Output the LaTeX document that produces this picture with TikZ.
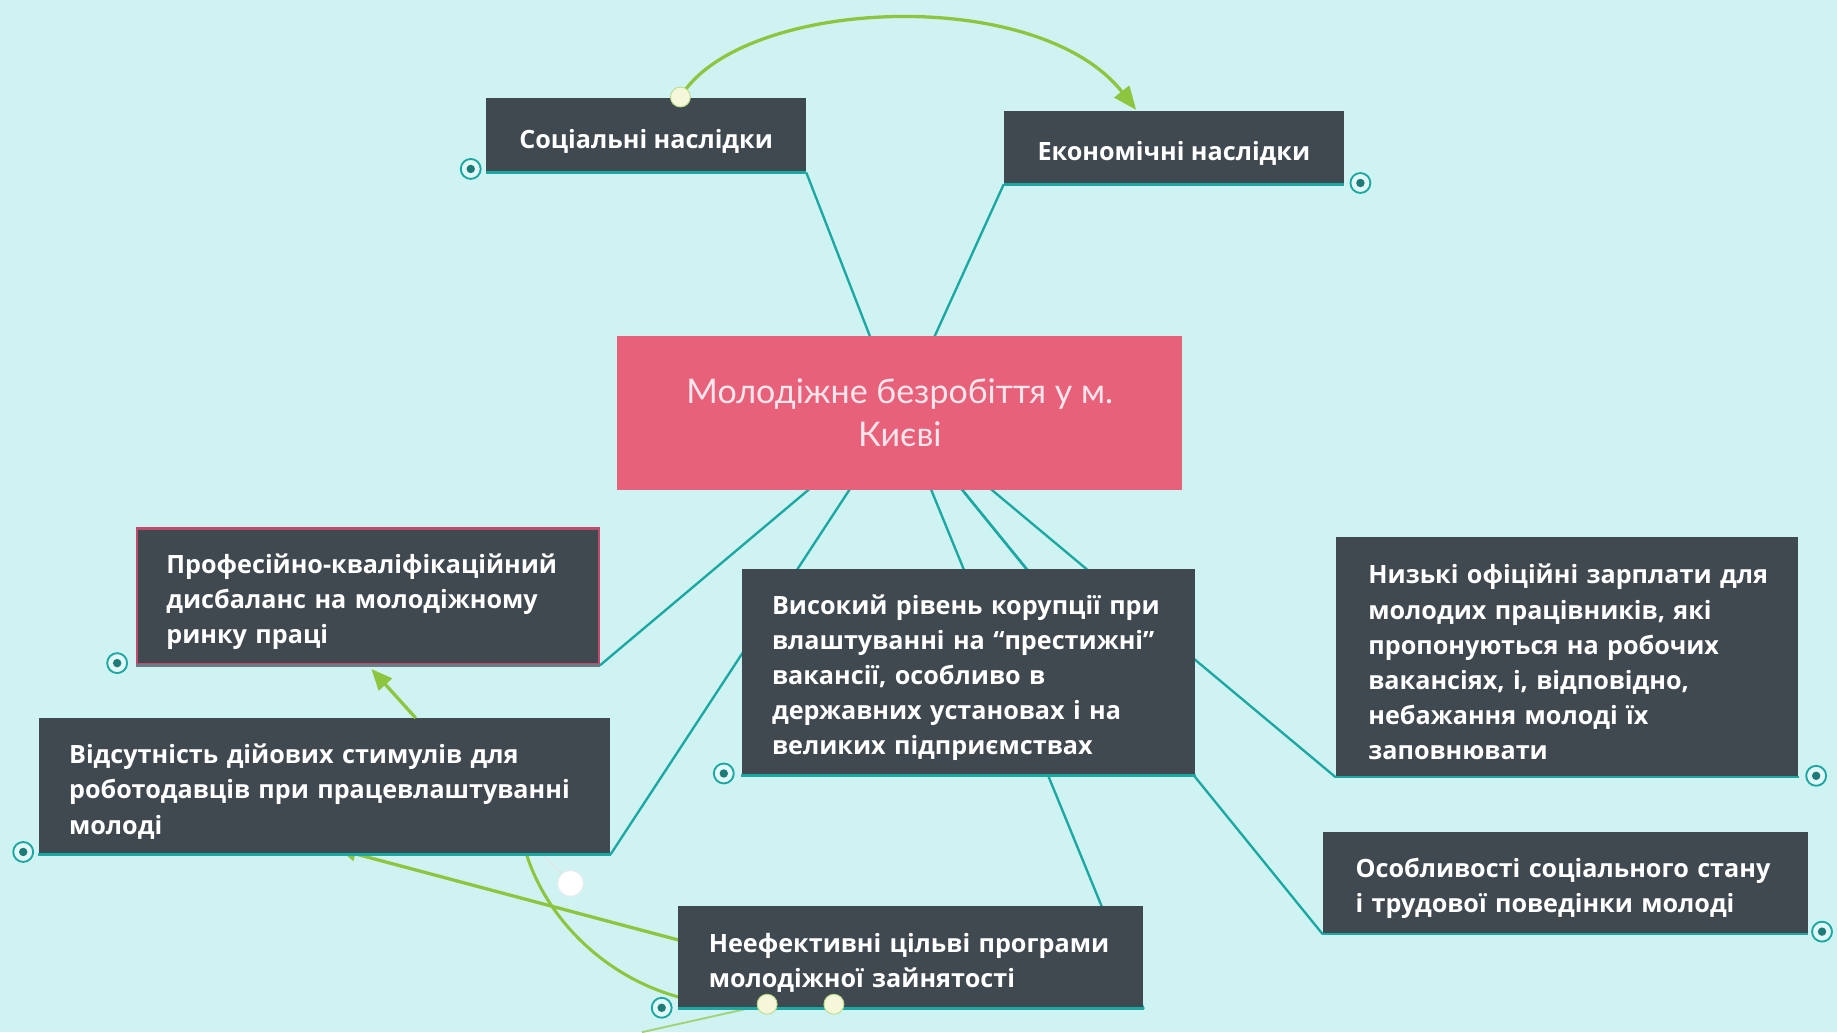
\documentclass[tikz,border=0pt]{standalone}
\usepackage{fontspec}
\setmainfont{Open Sans}
\newfontfamily\titlefont{Lato}
\usetikzlibrary{arrows.meta,calc}
\definecolor{bg}{HTML}{CFF2F2}
\definecolor{boxfill}{HTML}{414950}
\definecolor{teal1}{HTML}{1CA8A2}
\definecolor{pinkc}{HTML}{E8617A}
\definecolor{greenc}{HTML}{8CC63F}
\definecolor{cream}{HTML}{F6F7DA}
\definecolor{dteal}{HTML}{1E7C78}
\definecolor{profb}{HTML}{C04A6A}
\definecolor{titletext}{HTML}{FFE6EC}
\pgfdeclarelayer{back}
\pgfdeclarelayer{edges}
\pgfsetlayers{back,edges,main}
\newcommand{\tline}[1]{\mbox{#1}}
\begin{document}
\begin{tikzpicture}[x=1pt,y=-1pt,
  topic/.style={rectangle, fill=boxfill, text=white, inner sep=0pt,
    font=\bfseries\fontsize{21.5}{30}\selectfont, align=left,
    execute at begin node={\rule{0pt}{26pt}}},
  central/.style={rectangle, fill=pinkc, text=titletext, inner sep=0pt,
    font=\titlefont\fontsize{29}{37}\selectfont, align=center,
    execute at begin node={\rule{0pt}{28pt}}},
  link/.style={draw=teal1, line width=2pt},
  bottomline/.style={draw=teal1, line width=2.5pt},
  greenarrow/.style={draw=greenc, line width=2.8pt, -{Triangle[length=20pt,width=16pt]}},
  greenline/.style={draw=greenc, line width=2.6pt},
  marker/.style={circle, draw=teal1, line width=1.6pt, fill=bg!60!white, minimum size=17pt, inner sep=0pt,
    path picture={\fill[dteal] (path picture bounding box.center) circle (3.6pt);}},
  handle/.style={circle, draw=greenc!60!white, line width=0.8pt, fill=cream, minimum size=17pt, inner sep=0pt},
  whitehandle/.style={circle, draw=white!85!gray, line width=0.8pt, fill=white, minimum size=22pt, inner sep=0pt}
]
\begin{pgfonlayer}{back}
\fill[bg] (0,0) rectangle (1568,881);
\end{pgfonlayer}
\useasboundingbox (0,0) rectangle (1568,881);

% central
\node[central, minimum width=482pt, minimum height=131pt] (c) at (768,352.5) {Молодіжне безробіття у м.\\Києві};

% topics
\node[topic, minimum width=273pt, minimum height=63pt, align=center] (soc) at (551.5,115.5) {Соціальні наслідки};
\node[topic, minimum width=290pt, minimum height=62pt, align=center] (eco) at (1002,126) {Економічні наслідки};
\node[topic, draw=profb, line width=2pt, minimum width=394pt, minimum height=116pt, text width=344pt] (prof) at (314,509)
  {\tline{Професійно-кваліфікаційний}\\\tline{дисбаланс на молодіжному}\\\tline{ринку праці}};
\node[topic, minimum width=488pt, minimum height=116pt, text width=436pt] (vid) at (277,671)
  {\tline{Відсутність дійових стимулів для}\\\tline{роботодавців при працевлаштуванні}\\\tline{молоді}};
\node[topic, minimum width=387pt, minimum height=176pt, text width=335pt] (vys) at (826.5,574)
  {\tline{Високий рівень корупції при}\\\tline{влаштуванні на “престижні”}\\\tline{вакансії, особливо в}\\\tline{державних установах і на}\\\tline{великих підприємствах}};
\node[topic, minimum width=395pt, minimum height=205pt, text width=339pt] (nyz) at (1337.5,560.5)
  {\tline{Низькі офіційні зарплати для}\\\tline{молодих працівників, які}\\\tline{пропонуються на робочих}\\\tline{вакансіях, і, відповідно,}\\\tline{небажання молоді їх}\\\tline{заповнювати}};
\node[topic, minimum width=414pt, minimum height=87pt, text width=358pt] (oso) at (1336,753.5)
  {\tline{Особливості соціального стану}\\\tline{і трудової поведінки молоді}};
\node[topic, minimum width=397pt, minimum height=88pt, text width=345pt] (nef) at (777.5,817)
  {\tline{Неефективні цільві програми}\\\tline{молодіжної зайнятості}};

% bottom teal lines
\foreach \n in {soc,eco,vid,vys,nyz,oso,nef}{
  \draw[bottomline] (\n.south west) -- (\n.south east);
}
\draw[draw=teal1!50!profb, line width=2pt] (prof.south west) -- (prof.south east);

% connectors
\begin{pgfonlayer}{edges}
\draw[link] (c.center) -- (soc.south east);
\draw[link] (c.center) -- (eco.south west);
\draw[link] (c.center) -- (prof.south east);
\draw[link] (c.center) -- (vid.south east);
\draw[link] (c.center) -- (vys.south east);
\draw[link] (c.center) -- (nef.south east);
\draw[link] (c.center) -- (oso.south west);
\draw[link] (c.center) -- (nyz.south west);
% green relations partly under boxes
\coordinate (h3) at ($(nef.south west)+(76,-4)$);
\coordinate (h4) at ($(nef.south west)+(133,-4)$);
\draw[greenarrow, -{Triangle[length=14pt,width=12pt]}] ($(nef.north west)+(2,30)$) -- ($(vid.south west)+(257,-4)$);
\draw[greenline] (h3) .. controls (545,868) and (468,795) .. ($(vid.south east)+(-73,-4)$);
\draw[draw=greenc!70!bg, line width=1.6pt] (h3) -- (548,881);
\end{pgfonlayer}

% green arrows on top
\coordinate (h1) at ($(soc.north west)+(166,-1)$);
\coordinate (ecotop) at ($(eco.north west)+(113,-1)$);
\draw[greenarrow] (h1) .. controls (632,-2) and (885,-14) .. (ecotop);
\draw[greenarrow, -{Triangle[length=18pt,width=15pt]}] ($(vid.north west)+(322,0)$) -- ($(prof.south west)+(201,3)$);

% selection handle
\coordinate (wh) at (487,754);
\draw[draw=white!80!gray, line width=1.2pt] ($(vid.south east)+(-56,2)$) -- (wh);
\node[whitehandle] (whn) at (wh) {};

% handles
\node[handle] (h1n) at (h1) {};
\node[handle] (h3n) at (h3) {};
\node[handle] (h4n) at (h4) {};

% markers
\node[marker] (m1) at ($(soc.south west)+(-13,-3)$) {};
\node[marker] (m2) at ($(eco.south east)+(14,-1)$) {};
\node[marker] (m3) at ($(prof.south west)+(-16,-2)$) {};
\node[marker] (m4) at ($(vid.south west)+(-13,-2)$) {};
\node[marker] (m5) at ($(vys.south west)+(-15,-2)$) {};
\node[marker] (m6) at ($(nyz.south east)+(15,-1)$) {};
\node[marker] (m7) at ($(oso.south east)+(12,-2)$) {};
\node[marker] (m8) at ($(nef.south west)+(-14,-1)$) {};
\end{tikzpicture}
\end{document}
